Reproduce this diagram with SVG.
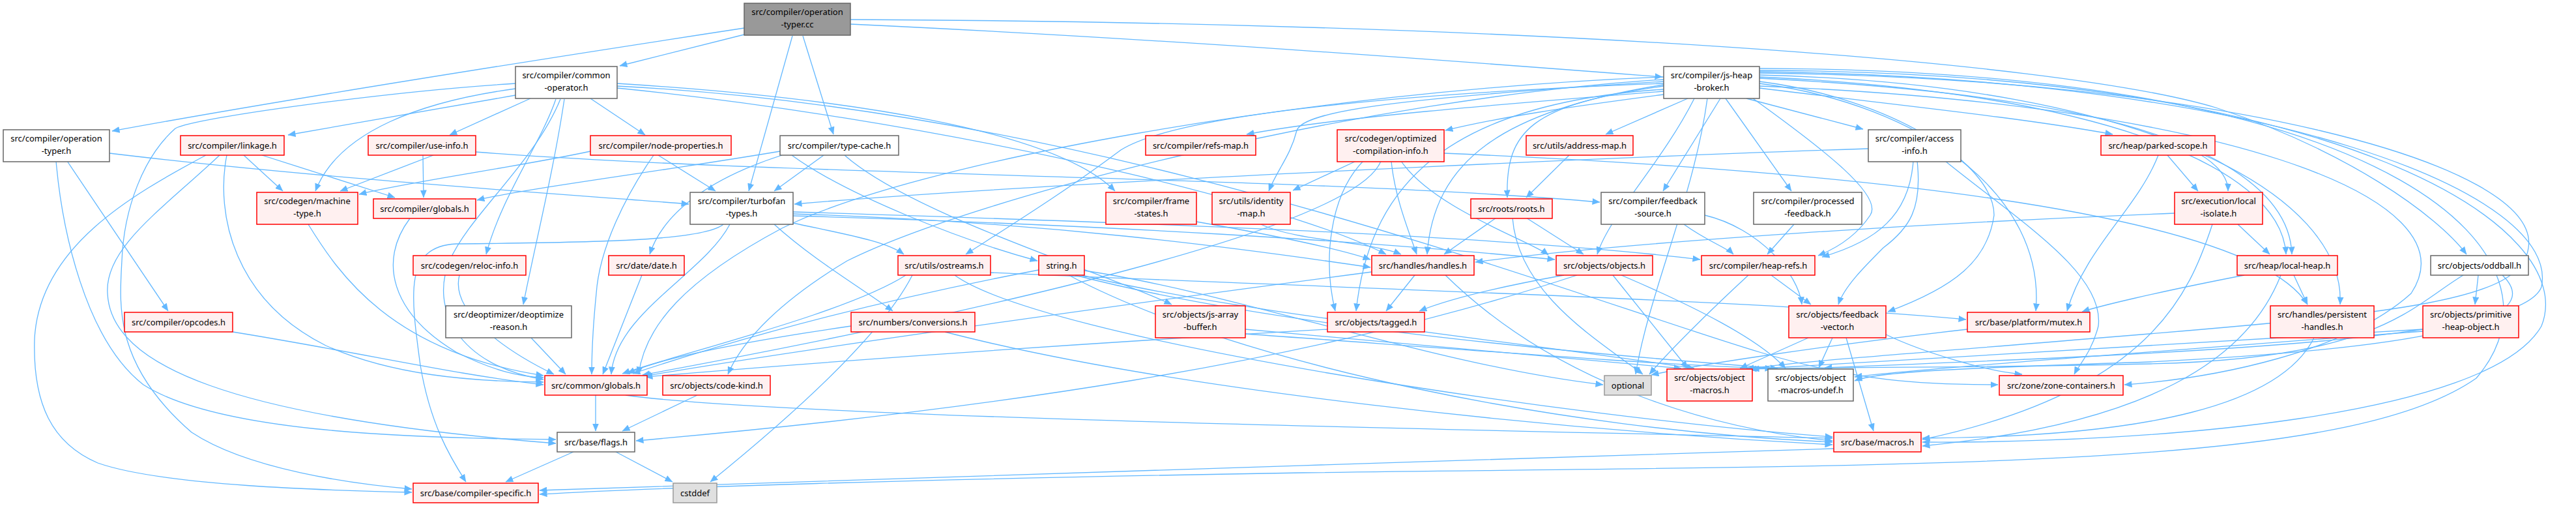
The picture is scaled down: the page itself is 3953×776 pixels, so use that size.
<svg xmlns="http://www.w3.org/2000/svg" width="3953" height="776" viewBox="0 0 3953 776">
<style>
.e{fill:none;stroke:#63b8ff;stroke-width:1.3;marker-end:url(#ah)}
.n rect{stroke-width:1.5}
.w rect{fill:#ffffff;stroke:#666666}
.r rect{fill:#fff0f0;stroke:#ff0000}
.g rect{fill:#e0e0e0;stroke:#999999}
.k rect{fill:#999999;stroke:#666666}
text{font-family:"Noto Sans","Liberation Sans",sans-serif;font-size:13px;text-anchor:middle;fill:#000000}
</style>
<defs>
<marker id="ah" viewBox="0 0 12 10" refX="11.5" refY="5" markerWidth="12" markerHeight="10" markerUnits="userSpaceOnUse" orient="auto"><path d="M0,0 L12,5 L0,10 z" fill="#63b8ff"/></marker>
</defs>
<rect width="3953" height="776" fill="#ffffff"/>
<g id="edges">
<path class="e" d="M1142,43 C900,80 450,150 172,201"/>
<path class="e" d="M1142,53 L951,101"/>
<path class="e" d="M1216,55 L1149,293"/>
<path class="e" d="M1232,55 L1279,206"/>
<path class="e" d="M1305,37 C1800,60 2250,95 2551,118"/>
<path class="e" d="M1305,30 C2300,34 3150,90 3400,165 C3600,230 3740,330 3785,390"/>
<path class="e" d="M791,146 L442,207"/>
<path class="e" d="M791,136 C650,155 520,200 484,293"/>
<path class="e" d="M791,128 C600,140 300,180 269,197 C220,240 190,320 187,400 C183,470 175,560 294,663 C380,720 540,742 632,750"/>
<path class="e" d="M814,151 L690,207"/>
<path class="e" d="M906,151 L990,207"/>
<path class="e" d="M853,152 C830,220 770,300 746,390"/>
<path class="e" d="M866,152 C850,260 820,380 803,467"/>
<path class="e" d="M860,152 C820,250 720,330 690,400 C660,470 700,560 834,582"/>
<path class="e" d="M947,128 C1300,150 1620,200 1711,293"/>
<path class="e" d="M947,132 C1700,170 2400,450 2700,540 C2850,585 2950,590 3066,590"/>
<path class="e" d="M947,135 C1400,180 1950,300 2127,390"/>
<path class="e" d="M168,235 C500,275 900,300 1057,313"/>
<path class="e" d="M86,247 C95,350 130,520 220,590 C330,660 600,672 853,674"/>
<path class="e" d="M103,247 L258,477"/>
<path class="e" d="M316,238 C200,300 60,380 53,520 C50,620 80,680 150,710 C250,745 500,752 632,755"/>
<path class="e" d="M337,238 C250,320 160,380 165,450 C170,560 350,640 853,680"/>
<path class="e" d="M348,238 C330,330 360,460 500,530 C600,575 720,585 834,586"/>
<path class="e" d="M374,238 L434,293"/>
<path class="e" d="M402,238 L606,303"/>
<path class="e" d="M665,238 L522,293"/>
<path class="e" d="M649,238 L650,303"/>
<path class="e" d="M730,233 C1200,270 2000,270 2455,310"/>
<path class="e" d="M906,232 C800,255 620,280 551,298"/>
<path class="e" d="M1010,238 L1098,293"/>
<path class="e" d="M1003,238 C960,300 920,380 915,450 C910,500 908,540 908,574"/>
<path class="e" d="M1197,232 C1000,265 800,290 732,307"/>
<path class="e" d="M1264,238 L1188,293"/>
<path class="e" d="M1200,238 C1100,270 1020,320 997,390"/>
<path class="e" d="M1215,238 C1300,300 1480,370 1592,400"/>
<path class="e" d="M1296,238 C1400,330 1700,420 1798,467"/>
<path class="e" d="M2553,140 C2300,160 2050,180 1913,206"/>
<path class="e" d="M2553,145 C2400,165 2300,180 2218,200"/>
<path class="e" d="M2590,151 L2464,206"/>
<path class="e" d="M2680,151 L2859,198"/>
<path class="e" d="M2700,135 C2900,160 3100,180 3242,206"/>
<path class="e" d="M2640,151 L2552,293"/>
<path class="e" d="M2648,151 L2749,293"/>
<path class="e" d="M2553,132 C2350,160 2310,200 2313,303"/>
<path class="e" d="M2553,125 C2150,150 2000,170 1990,200 C1980,240 1960,260 1947,293"/>
<path class="e" d="M2553,130 C2300,170 2200,250 2190,390"/>
<path class="e" d="M2553,137 C2200,160 2100,300 2081,477"/>
<path class="e" d="M2553,128 C2100,145 1800,180 1720,230 C1640,290 1560,340 1482,390"/>
<path class="e" d="M2553,118 C2000,140 1400,250 1200,350 C1050,430 990,500 980,574"/>
<path class="e" d="M2553,122 C2100,150 1500,300 1300,400 C1200,460 1140,520 1117,574"/>
<path class="e" d="M2690,151 C2800,230 2890,300 2870,330 C2850,360 2820,380 2790,392"/>
<path class="e" d="M2700,125 C2900,150 3060,250 3060,330 C3050,400 3000,440 2897,478"/>
<path class="e" d="M2700,120 C3100,140 3420,200 3419,293"/>
<path class="e" d="M2700,118 C3200,140 3500,250 3508,390"/>
<path class="e" d="M2700,115 C3300,130 3600,300 3591,467"/>
<path class="e" d="M2700,128 C2950,160 3140,300 3124,477"/>
<path class="e" d="M2700,132 C3400,160 3800,300 3700,450 C3600,540 3400,580 3260,590"/>
<path class="e" d="M2700,112 C3400,120 3900,250 3880,380 C3870,460 3700,480 3200,520 C2900,545 2750,555 2680,566"/>
<path class="e" d="M2700,110 C3500,120 3930,300 3900,440 C3870,520 3400,540 2800,564"/>
<path class="e" d="M2620,151 C2600,300 2530,450 2510,574"/>
<path class="e" d="M2700,108 C3600,110 3960,350 3900,500 C3820,640 3300,680 2950,678"/>
<path class="e" d="M2700,105 C3700,108 3955,400 3800,580 C3600,720 3000,712 2000,725 C1400,735 1000,748 828,758"/>
<path class="e" d="M2600,151 C2550,250 2470,330 2451,390"/>
<path class="e" d="M2081,247 L1984,292"/>
<path class="e" d="M2135,247 C2140,300 2160,350 2174,390"/>
<path class="e" d="M2150,247 C2200,320 2350,370 2376,391"/>
<path class="e" d="M2092,247 C2040,300 2030,400 2049,477"/>
<path class="e" d="M2216,235 C2800,260 3450,320 3541,467"/>
<path class="e" d="M2119,247 C2080,350 1500,480 986,575"/>
<path class="e" d="M2408,238 L2342,303"/>
<path class="e" d="M2936,247 C2930,330 2880,370 2796,394"/>
<path class="e" d="M2942,247 C2950,320 2930,350 2890,380 C2860,410 2830,440 2821,467"/>
<path class="e" d="M2985,247 C3100,340 3230,420 3220,500 C3210,540 3190,560 3183,574"/>
<path class="e" d="M2867,228 C2500,240 1600,280 1219,313"/>
<path class="e" d="M3326,238 L3373,293"/>
<path class="e" d="M3387,238 C3470,280 3515,330 3517,390"/>
<path class="e" d="M3312,238 C3280,320 3200,380 3172,477"/>
<path class="e" d="M473,344 C520,420 600,540 834,576"/>
<path class="e" d="M629,335 C580,400 600,480 700,540 C760,570 800,578 834,579"/>
<path class="e" d="M1120,344 C1080,420 945,480 938,574"/>
<path class="e" d="M1110,344 C1080,370 900,372 700,374 C620,378 630,450 645,560 C660,650 690,700 715,739"/>
<path class="e" d="M1217,325 C1700,340 2300,360 2609,398"/>
<path class="e" d="M1217,328 C1600,340 1900,380 2103,410"/>
<path class="e" d="M1217,331 C1700,345 2100,370 2386,398"/>
<path class="e" d="M1188,344 C1250,400 1320,440 1370,477"/>
<path class="e" d="M1217,342 C1300,360 1360,370 1387,390"/>
<path class="e" d="M1836,340 C1950,360 2050,380 2103,398"/>
<path class="e" d="M1935,344 C1990,370 2100,370 2150,390"/>
<path class="e" d="M2296,334 L2216,390"/>
<path class="e" d="M2342,334 L2430,390"/>
<path class="e" d="M2321,334 C2330,450 2450,520 2521,574"/>
<path class="e" d="M2584,344 C2620,370 2650,380 2660,390"/>
<path class="e" d="M2616,330 C2700,350 2760,420 2765,467"/>
<path class="e" d="M2753,344 L2712,390"/>
<path class="e" d="M3434,344 L3483,390"/>
<path class="e" d="M3337,327 C3000,340 2500,370 2264,402"/>
<path class="e" d="M3395,344 C3360,450 3300,600 2950,674"/>
<path class="e" d="M705,422 C690,480 780,540 850,574"/>
<path class="e" d="M985,422 L925,574"/>
<path class="e" d="M1390,422 C1300,480 1050,540 955,573"/>
<path class="e" d="M1465,422 C1600,520 2400,640 2812,670"/>
<path class="e" d="M1520,418 C2000,440 2700,460 3017,490"/>
<path class="e" d="M1400,422 C1350,520 1200,650 1090,739"/>
<path class="e" d="M1594,414 C1300,470 1100,530 971,573"/>
<path class="e" d="M1664,415 C1900,450 2200,560 2460,590"/>
<path class="e" d="M1660,422 C1900,480 2300,520 2600,565"/>
<path class="e" d="M1650,422 C1950,500 2400,540 2728,565"/>
<path class="e" d="M1640,422 C1900,560 2400,660 2812,678"/>
<path class="e" d="M2171,422 L2127,477"/>
<path class="e" d="M2105,417 C1700,470 1200,540 988,577"/>
<path class="e" d="M2218,422 C2400,600 2650,660 2812,676"/>
<path class="e" d="M2400,422 C2300,440 2220,460 2178,477"/>
<path class="e" d="M2475,422 L2590,565"/>
<path class="e" d="M2488,422 C2600,470 2700,520 2740,565"/>
<path class="e" d="M2420,422 C2000,560 1500,630 976,676"/>
<path class="e" d="M2718,422 L2779,467"/>
<path class="e" d="M2683,422 C2620,480 2560,540 2531,574"/>
<path class="e" d="M3520,422 L3541,467"/>
<path class="e" d="M3444,422 C3300,450 3220,470 3195,478"/>
<path class="e" d="M3500,422 C3450,550 3300,650 2950,684"/>
<path class="e" d="M3803,422 L3798,467"/>
<path class="e" d="M3780,422 C3700,470 3650,550 3300,558 C3000,565 2800,562 2684,566"/>
<path class="e" d="M3840,422 C3900,480 3800,530 3300,555 C3000,565 2880,570 2846,584"/>
<path class="e" d="M357,509 C550,540 700,575 834,590"/>
<path class="e" d="M815,518 L868,574"/>
<path class="e" d="M1306,500 C1100,530 1000,555 963,573"/>
<path class="e" d="M1450,509 C1800,600 2400,660 2812,682"/>
<path class="e" d="M1911,505 C2200,530 2400,550 2580,565"/>
<path class="e" d="M1911,512 C2300,540 2550,560 2720,565"/>
<path class="e" d="M2037,505 C1600,530 1200,560 990,578"/>
<path class="e" d="M2775,518 L2670,565"/>
<path class="e" d="M2812,518 L2791,564"/>
<path class="e" d="M2833,518 L2875,661"/>
<path class="e" d="M2894,513 C2950,540 3050,570 3103,574"/>
<path class="e" d="M3019,505 C2800,530 2600,560 2534,575"/>
<path class="e" d="M3551,518 C3500,620 3300,670 2950,672"/>
<path class="e" d="M3718,505 C3300,530 2900,555 2688,566"/>
<path class="e" d="M3718,508 C3300,540 2950,565 2846,578"/>
<path class="e" d="M914,606 L914,661"/>
<path class="e" d="M960,606 C1200,640 2300,660 2812,672"/>
<path class="e" d="M1070,606 L955,661"/>
<path class="e" d="M880,693 L776,739"/>
<path class="e" d="M945,693 L1032,739"/>
<path class="e" d="M2814,688 C2200,710 1200,735 828,752"/>
</g>
<g id="n_root" class="n k"><rect x="1142" y="5" width="163" height="49"/><text x="1223.5" y="22.5">src/compiler/operation</text><text x="1223.5" y="41.5">-typer.cc</text></g>
<g id="n_common_operator" class="n w"><rect x="791" y="102" width="156" height="49"/><text x="869" y="119.5">src/compiler/common</text><text x="869" y="138.5">-operator.h</text></g>
<g id="n_js_heap_broker" class="n w"><rect x="2553" y="102" width="147" height="49"/><text x="2626.5" y="119.5">src/compiler/js-heap</text><text x="2626.5" y="138.5">-broker.h</text></g>
<g id="n_operation_typer_h" class="n w"><rect x="5" y="199" width="163" height="49"/><text x="86.5" y="216.5">src/compiler/operation</text><text x="86.5" y="235.5">-typer.h</text></g>
<g id="n_linkage" class="n r"><rect x="277" y="208" width="159" height="30"/><text x="356.5" y="227.5">src/compiler/linkage.h</text></g>
<g id="n_use_info" class="n r"><rect x="565" y="208" width="165" height="30"/><text x="647.5" y="227.5">src/compiler/use-info.h</text></g>
<g id="n_node_properties" class="n r"><rect x="906" y="208" width="216" height="30"/><text x="1014" y="227.5">src/compiler/node-properties.h</text></g>
<g id="n_type_cache" class="n w"><rect x="1197" y="208" width="182" height="30"/><text x="1288" y="227.5">src/compiler/type-cache.h</text></g>
<g id="n_refs_map" class="n r"><rect x="1758" y="208" width="169" height="30"/><text x="1842.5" y="227.5">src/compiler/refs-map.h</text></g>
<g id="n_optimized_compilation_info" class="n r"><rect x="2052" y="199" width="164" height="49"/><text x="2134" y="216.5">src/codegen/optimized</text><text x="2134" y="235.5">-compilation-info.h</text></g>
<g id="n_address_map" class="n r"><rect x="2342" y="208" width="164" height="30"/><text x="2424" y="227.5">src/utils/address-map.h</text></g>
<g id="n_access_info" class="n w"><rect x="2867" y="199" width="142" height="49"/><text x="2938" y="216.5">src/compiler/access</text><text x="2938" y="235.5">-info.h</text></g>
<g id="n_parked_scope" class="n r"><rect x="3224" y="208" width="175" height="30"/><text x="3311.5" y="227.5">src/heap/parked-scope.h</text></g>
<g id="n_machine_type" class="n r"><rect x="394" y="295" width="155" height="49"/><text x="471.5" y="312.5">src/codegen/machine</text><text x="471.5" y="331.5">-type.h</text></g>
<g id="n_compiler_globals" class="n r"><rect x="573" y="305" width="157" height="30"/><text x="651.5" y="324.5">src/compiler/globals.h</text></g>
<g id="n_turbofan_types" class="n w"><rect x="1059" y="295" width="158" height="49"/><text x="1138" y="312.5">src/compiler/turbofan</text><text x="1138" y="331.5">-types.h</text></g>
<g id="n_frame_states" class="n r"><rect x="1697" y="295" width="139" height="49"/><text x="1766.5" y="312.5">src/compiler/frame</text><text x="1766.5" y="331.5">-states.h</text></g>
<g id="n_identity_map" class="n r"><rect x="1860" y="295" width="120" height="49"/><text x="1920" y="312.5">src/utils/identity</text><text x="1920" y="331.5">-map.h</text></g>
<g id="n_roots" class="n r"><rect x="2257" y="305" width="125" height="30"/><text x="2319.5" y="324.5">src/roots/roots.h</text></g>
<g id="n_feedback_source" class="n w"><rect x="2457" y="295" width="159" height="49"/><text x="2536.5" y="312.5">src/compiler/feedback</text><text x="2536.5" y="331.5">-source.h</text></g>
<g id="n_processed_feedback" class="n w"><rect x="2691" y="295" width="166" height="49"/><text x="2774" y="312.5">src/compiler/processed</text><text x="2774" y="331.5">-feedback.h</text></g>
<g id="n_local_isolate" class="n r"><rect x="3337" y="295" width="135" height="49"/><text x="3404.5" y="312.5">src/execution/local</text><text x="3404.5" y="331.5">-isolate.h</text></g>
<g id="n_reloc_info" class="n r"><rect x="634" y="392" width="173" height="30"/><text x="720.5" y="411.5">src/codegen/reloc-info.h</text></g>
<g id="n_date" class="n r"><rect x="934" y="392" width="116" height="30"/><text x="992" y="411.5">src/date/date.h</text></g>
<g id="n_ostreams" class="n r"><rect x="1378" y="392" width="142" height="30"/><text x="1449" y="411.5">src/utils/ostreams.h</text></g>
<g id="n_string" class="n r"><rect x="1594" y="392" width="70" height="30"/><text x="1629" y="411.5">string.h</text></g>
<g id="n_handles" class="n r"><rect x="2105" y="392" width="157" height="30"/><text x="2183.5" y="411.5">src/handles/handles.h</text></g>
<g id="n_objects" class="n r"><rect x="2388" y="392" width="148" height="30"/><text x="2462" y="411.5">src/objects/objects.h</text></g>
<g id="n_heap_refs" class="n r"><rect x="2611" y="392" width="174" height="30"/><text x="2698" y="411.5">src/compiler/heap-refs.h</text></g>
<g id="n_local_heap" class="n r"><rect x="3433" y="392" width="154" height="30"/><text x="3510" y="411.5">src/heap/local-heap.h</text></g>
<g id="n_oddball" class="n w"><rect x="3730" y="392" width="150" height="30"/><text x="3805" y="411.5">src/objects/oddball.h</text></g>
<g id="n_opcodes" class="n r"><rect x="191" y="479" width="166" height="30"/><text x="274" y="498.5">src/compiler/opcodes.h</text></g>
<g id="n_deoptimize_reason" class="n w"><rect x="684" y="469" width="193" height="49"/><text x="780.5" y="486.5">src/deoptimizer/deoptimize</text><text x="780.5" y="505.5">-reason.h</text></g>
<g id="n_conversions" class="n r"><rect x="1306" y="479" width="190" height="30"/><text x="1401" y="498.5">src/numbers/conversions.h</text></g>
<g id="n_js_array_buffer" class="n r"><rect x="1773" y="469" width="138" height="49"/><text x="1842" y="486.5">src/objects/js-array</text><text x="1842" y="505.5">-buffer.h</text></g>
<g id="n_tagged" class="n r"><rect x="2037" y="479" width="149" height="30"/><text x="2111.5" y="498.5">src/objects/tagged.h</text></g>
<g id="n_feedback_vector" class="n r"><rect x="2745" y="469" width="149" height="49"/><text x="2819.5" y="486.5">src/objects/feedback</text><text x="2819.5" y="505.5">-vector.h</text></g>
<g id="n_mutex" class="n r"><rect x="3019" y="479" width="188" height="30"/><text x="3113" y="498.5">src/base/platform/mutex.h</text></g>
<g id="n_persistent_handles" class="n r"><rect x="3484" y="469" width="159" height="49"/><text x="3563.5" y="486.5">src/handles/persistent</text><text x="3563.5" y="505.5">-handles.h</text></g>
<g id="n_primitive_heap_object" class="n r"><rect x="3718" y="469" width="147" height="49"/><text x="3791.5" y="486.5">src/objects/primitive</text><text x="3791.5" y="505.5">-heap-object.h</text></g>
<g id="n_common_globals" class="n r"><rect x="836" y="576" width="157" height="30"/><text x="914.5" y="595.5">src/common/globals.h</text></g>
<g id="n_code_kind" class="n r"><rect x="1017" y="576" width="165" height="30"/><text x="1099.5" y="595.5">src/objects/code-kind.h</text></g>
<g id="n_optional" class="n g"><rect x="2462" y="576" width="72" height="30"/><text x="2498" y="595.5">optional</text></g>
<g id="n_object_macros" class="n r"><rect x="2558" y="566" width="131" height="49"/><text x="2623.5" y="583.5">src/objects/object</text><text x="2623.5" y="602.5">-macros.h</text></g>
<g id="n_object_macros_undef" class="n w"><rect x="2713" y="566" width="131" height="49"/><text x="2778.5" y="583.5">src/objects/object</text><text x="2778.5" y="602.5">-macros-undef.h</text></g>
<g id="n_zone_containers" class="n r"><rect x="3068" y="576" width="190" height="30"/><text x="3163" y="595.5">src/zone/zone-containers.h</text></g>
<g id="n_flags" class="n w"><rect x="855" y="663" width="119" height="30"/><text x="914.5" y="682.5">src/base/flags.h</text></g>
<g id="n_macros" class="n r"><rect x="2814" y="663" width="134" height="30"/><text x="2881" y="682.5">src/base/macros.h</text></g>
<g id="n_compiler_specific" class="n r"><rect x="634" y="741" width="192" height="30"/><text x="730" y="760.5">src/base/compiler-specific.h</text></g>
<g id="n_cstddef" class="n g"><rect x="1033" y="741" width="67" height="30"/><text x="1066.5" y="760.5">cstddef</text></g>
</svg>
